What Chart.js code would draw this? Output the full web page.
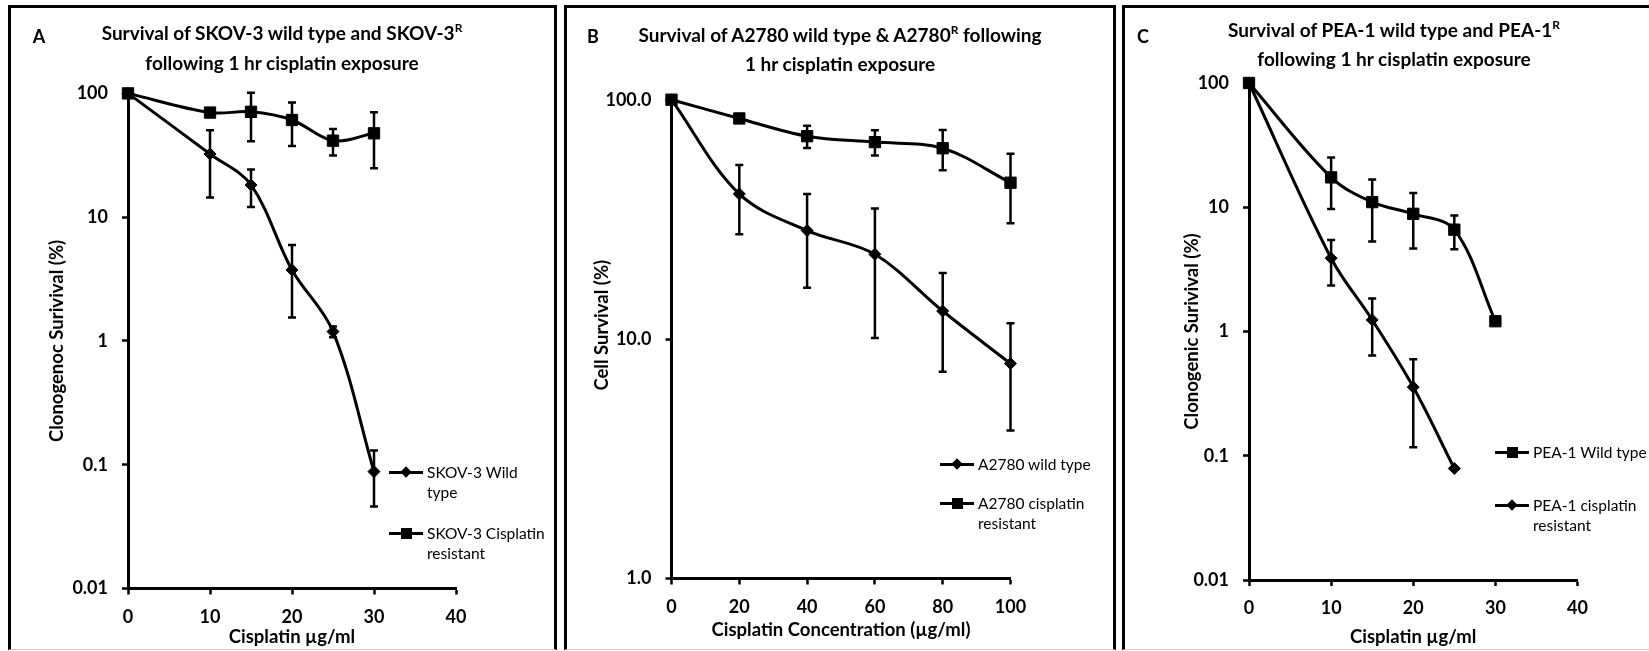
<!DOCTYPE html>
<html>
<head>
<meta charset="utf-8">
<script src="https://cdn.jsdelivr.net/npm/chart.js@4.4.1/dist/chart.umd.min.js"></script>
<style>
    html, body { margin: 0; padding: 0; background: #fff; }
    body { width: 1649px; height: 651px; overflow: hidden; position: relative; font-family: Lato, "Open Sans", sans-serif; color: #000; }
    .frame { position: absolute; box-sizing: border-box; border: 3px solid #000; border-bottom: 1px solid #c8c8c8; }
    canvas { position: absolute; }
    .ttl { position: absolute; font-weight: 700; font-size: 19px; line-height: 26px; text-align: center; white-space: nowrap; transform: translateX(-50%); }
    .ttl sup { font-size: 12px; vertical-align: baseline; position: relative; top: -8px; }
    .letter { position: absolute; font-weight: 700; font-size: 18px; line-height: 20px; transform: translateX(-50%); }
    .leg { position: absolute; font-size: 15.5px; line-height: 20px; white-space: nowrap; }
    .mk { position: absolute; width: 34px; height: 3px; background: #000; }
    .mk .sq { position: absolute; width: 11px; height: 11px; left: 11.5px; top: -4px; background: #000; }
    .mk .dm { position: absolute; width: 8px; height: 8px; left: 13px; top: -2.5px; background: #000; transform: rotate(45deg); }
</style>
</head>
<body>
<script>
// ---- data ----
const xA = [0, 10, 15, 20, 25, 30];
const skovWild = [100, 32.4, 18.2, 3.75, 1.19, 0.088];
const skovWildErr = [0, 18, 6.1, 2.2, 0.12, 0.042];
const skovRes = [100, 70, 71, 61, 41.5, 47.6];
const skovResErr = [0, 0, 30, 23.5, 10, 22.7];

const xB = [0, 20, 40, 60, 80, 100];
const a2780Wild = [100, 40.4, 28.4, 22.6, 13.1, 7.9];
const a2780WildErr = [0, 13, 12, 12.5, 5.8, 3.75];
const a2780Res = [100, 83.5, 70.4, 66.5, 62.7, 45];
const a2780ResErr = [0, 0, 7.5, 8, 12, 14.5];

const xCWild = [0, 10, 15, 20, 25, 30];
const peaWild = [100, 17.4, 11, 8.85, 6.6, 1.21];
const peaWildErr = [0, 7.7, 5.7, 4.2, 2, 0.05];
const xCRes = [0, 10, 15, 20, 25];
const peaRes = [100, 3.89, 1.24, 0.357, 0.079];
const peaResErr = [0, 1.55, 0.6, 0.24, 0];

const yTicksAC = [0.01, 0.1, 1, 10, 100];
const yLabelsAC = ['0.01', '0.1', '1', '10', '100'];
const yTicksB = [1, 10, 100];
const yLabelsB = ['1.0', '10.0', '100.0'];
const xTicksAC = [0, 10, 20, 30, 40];
const xTicksB = [0, 20, 40, 60, 80, 100];

const FONT = 'Lato, "Open Sans", sans-serif';

// error bar plugin: draws +/- error from dataset.errors using the chart scales
const errorBars = {
    id: 'errorBars',
    afterDatasetsDraw(chart) {
        const { ctx, scales: { x, y } } = chart;
        ctx.save();
        ctx.strokeStyle = '#000';
        ctx.lineWidth = 2.5;
        chart.data.datasets.forEach(ds => {
            if (!ds.errors) return;
            ds.data.forEach((p, i) => {
                const e = ds.errors[i];
                if (!e) return;
                const px = x.getPixelForValue(p.x);
                const top = y.getPixelForValue(p.y + e);
                const bot = y.getPixelForValue(p.y - e);
                ctx.beginPath();
                ctx.moveTo(px, top); ctx.lineTo(px, bot);
                ctx.moveTo(px - 4, top); ctx.lineTo(px + 4, top);
                ctx.moveTo(px - 4, bot); ctx.lineTo(px + 4, bot);
                ctx.stroke();
            });
        });
        ctx.restore();
    }
};

function series(label, xs, ys, errs, style) {
    return {
        label: label,
        data: xs.map((x, i) => ({ x: x, y: ys[i] })),
        errors: errs,
        borderColor: '#000',
        backgroundColor: '#000',
        borderWidth: 3,
        tension: 0.35,
        pointStyle: style,
        pointRadius: style === 'rect' ? 8 : 6,
        pointBorderWidth: 1,
        pointBackgroundColor: '#000',
        pointBorderColor: '#000',
        clip: false
    };
}

function el(cls, css, html) {
    const d = document.createElement('div');
    d.className = cls;
    Object.assign(d.style, css);
    if (html !== undefined) d.innerHTML = html;
    document.body.appendChild(d);
    return d;
}

function buildPanel(p) {
    el('frame', { left: p.frame.left + 'px', top: p.frame.top + 'px', width: (p.frame.right - p.frame.left) + 'px', height: (650 - p.frame.top) + 'px' });

    const cw = Math.min(p.frame.right, 1649) - p.frame.left;
    const ch = 651 - p.frame.top;
    const canvas = document.createElement('canvas');
    canvas.width = cw; canvas.height = ch;
    canvas.style.left = p.frame.left + 'px';
    canvas.style.top = p.frame.top + 'px';
    canvas.style.width = cw + 'px';
    canvas.style.height = ch + 'px';
    document.body.appendChild(canvas);

    const tickFont = { family: FONT, size: 18, weight: 'bold' };
    const titleFont = { family: FONT, size: 18.5, weight: 'bold' };
    const gridOpts = { display: true, drawOnChartArea: false, drawTicks: true, tickLength: 6, tickWidth: 2.5, tickColor: '#000', color: '#000' };
    const half = titleFont.size * 1.2 / 2;

    new Chart(canvas, {
        type: 'line',
        data: { datasets: p.datasets },
        options: {
            responsive: false,
            animation: false,
            layout: { padding: { left: 0, top: p.plot.top - p.frame.top, right: cw - (p.plot.right - p.frame.left), bottom: 0 } },
            plugins: { legend: { display: false }, tooltip: { enabled: false } },
            scales: {
                x: {
                    type: 'linear',
                    min: p.xTicks[0],
                    max: p.xTicks[p.xTicks.length - 1],
                    afterBuildTicks: s => { s.ticks = p.xTicks.map(v => ({ value: v })); },
                    afterFit: s => { s.height = ch - (p.plot.bottom - p.frame.top); },
                    ticks: { color: '#000', font: tickFont, padding: 11.5, maxRotation: 0 },
                    grid: gridOpts,
                    border: { display: true, color: '#000', width: 3 },
                    title: { display: true, text: p.xTitle, color: '#000', font: titleFont, padding: { top: 0, bottom: 651 - p.xTitleY - half } }
                },
                y: {
                    type: 'logarithmic',
                    min: p.yTicks[0],
                    max: p.yTicks[p.yTicks.length - 1],
                    afterBuildTicks: s => { s.ticks = p.yTicks.map(v => ({ value: v })); },
                    afterFit: s => { s.width = p.plot.left - p.frame.left; },
                    ticks: {
                        color: '#000', font: tickFont, padding: 14,
                        callback: v => {
                            const i = p.yTicks.findIndex(t => Math.abs(Math.log10(t) - Math.log10(v)) < 1e-6);
                            return i >= 0 ? p.yLabels[i] : '';
                        }
                    },
                    grid: gridOpts,
                    border: { display: true, color: '#000', width: 3 },
                    title: { display: true, text: p.yTitle, color: '#000', font: titleFont, padding: { top: p.yTitleX - p.frame.left - half, bottom: 0 } }
                }
            }
        },
        plugins: [errorBars]
    });

    el('ttl', { left: p.titleX + 'px', top: p.titleTop + 'px', lineHeight: p.titleLine + 'px' }, p.title);
    el('letter', { left: p.letterX + 'px', top: '26px' }, p.letter);

    p.legend.forEach(item => {
        const m = el('mk', { left: item.x + 'px', top: (item.y - 1.5) + 'px' });
        const s = document.createElement('div');
        s.className = item.marker === 'square' ? 'sq' : 'dm';
        m.appendChild(s);
        el('leg', { left: (item.x + 38) + 'px', top: (item.y - 10) + 'px' }, item.text);
    });
}

buildPanel({
    letter: 'A', letterX: 39,
    frame: { left: 8, top: 5, right: 557 },
    plot: { left: 128, top: 93.4, right: 456, bottom: 588.5 },
    title: 'Survival of SKOV-3 wild type and SKOV-3<sup>R</sup><br>following 1 hr cisplatin exposure',
    titleX: 282, titleTop: 19, titleLine: 27,
    xTitle: 'Cisplatin \u00b5g/ml', xTitleY: 637,
    yTitle: 'Clonogenoc Surivival (%)', yTitleX: 57,
    xTicks: xTicksAC, yTicks: yTicksAC, yLabels: yLabelsAC,
    datasets: [
        series('SKOV-3 Wild type', xA, skovWild, skovWildErr, 'rectRot'),
        series('SKOV-3 Cisplatin resistant', xA, skovRes, skovResErr, 'rect')
    ],
    legend: [
        { x: 389, y: 472, marker: 'diamond', text: 'SKOV-3 Wild<br>type' },
        { x: 389, y: 533, marker: 'square', text: 'SKOV-3 Cisplatin<br>resistant' }
    ]
});

buildPanel({
    letter: 'B', letterX: 593,
    frame: { left: 564, top: 5, right: 1116 },
    plot: { left: 671.5, top: 99.7, right: 1010.5, bottom: 578.5 },
    title: 'Survival of A2780 wild type &amp; A2780<sup>R</sup> following<br>1 hr cisplatin exposure',
    titleX: 840, titleTop: 22, titleLine: 26,
    xTitle: 'Cisplatin Concentration (\u00b5g/ml)', xTitleY: 630,
    // leading en spaces lift the centred axis title to where the reference has it
    yTitle: '\u2002\u2002\u2002Cell Survival (%)', yTitleX: 602,
    xTicks: xTicksB, yTicks: yTicksB, yLabels: yLabelsB,
    datasets: [
        series('A2780 wild type', xB, a2780Wild, a2780WildErr, 'rectRot'),
        series('A2780 cisplatin resistant', xB, a2780Res, a2780ResErr, 'rect')
    ],
    legend: [
        { x: 940, y: 464, marker: 'diamond', text: 'A2780 wild type' },
        { x: 940, y: 503, marker: 'square', text: 'A2780 cisplatin<br>resistant' }
    ]
});

buildPanel({
    letter: 'C', letterX: 1143,
    frame: { left: 1122, top: 5, right: 1654 },
    plot: { left: 1249, top: 83, right: 1577.5, bottom: 580 },
    title: 'Survival of PEA-1 wild type and PEA-1<sup>R</sup><br>following 1 hr cisplatin exposure',
    titleX: 1394, titleTop: 17, titleLine: 26,
    xTitle: 'Cisplatin \u00b5g/ml', xTitleY: 637,
    yTitle: 'Clonogenic Surivival (%)', yTitleX: 1192,
    xTicks: xTicksAC, yTicks: yTicksAC, yLabels: yLabelsAC,
    datasets: [
        series('PEA-1 Wild type', xCWild, peaWild, peaWildErr, 'rect'),
        series('PEA-1 cisplatin resistant', xCRes, peaRes, peaResErr, 'rectRot')
    ],
    legend: [
        { x: 1495, y: 452, marker: 'square', text: 'PEA-1 Wild type' },
        { x: 1495, y: 505, marker: 'diamond', text: 'PEA-1 cisplatin<br>resistant' }
    ]
});
</script>
</body>
</html>
